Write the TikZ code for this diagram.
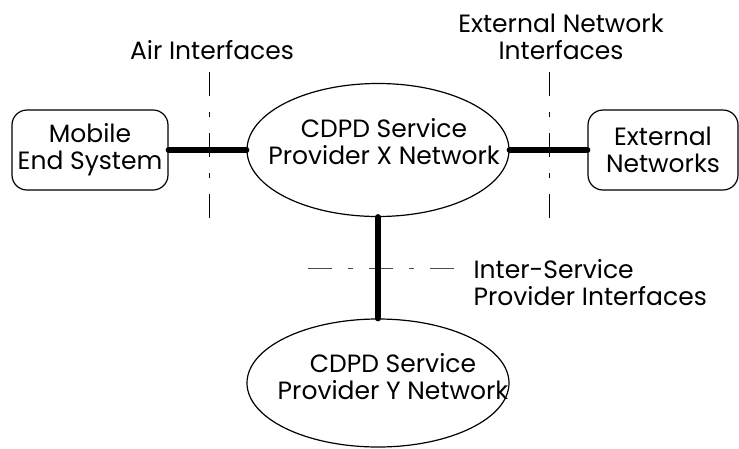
\documentclass[tikz,border=0pt]{standalone}
\usepackage{fontspec}
\setmainfont{Poppins}
\usetikzlibrary{arrows,positioning,shapes.geometric}

\begin{document}
\begin{tikzpicture}[x=1pt,y=-1pt,node distance=100pt,on grid,font=\fontsize{25}{27}\selectfont]
          \useasboundingbox (0,0) rectangle (739,448);
          \tikzset{endbox/.style={draw,rounded corners=15pt,line width=1.2pt,minimum width=156pt,minimum height=80pt,align=center,inner sep=0pt}}
          \tikzset{cloud/.style={ellipse,draw,line width=1.2pt,minimum width=262pt,minimum height=133pt,inner sep=0pt}}
          \node[cloud]                        (X) at (378,150)       {};
          \node[endbox]                       (M) [left =288pt of X] {Mobile\\End System};
          \node[endbox,minimum width=150pt]   (E) [right =285pt of X] {External\\Networks};
          \node[cloud,minimum height=128pt]   (Y) [below =233pt of X] {};
          \node[align=center]                 (Xtxt) [right =6pt of X,yshift=8pt] {CDPD Service\\Provider X Network};
          \node[align=center]                 (Ytxt) [right =15pt of Y,yshift=6pt] {CDPD Service\\Provider Y Network};
          \node                               (airlbl) at (212,50)   {Air Interfaces};
          \node[align=center]                 (extlbl) at (561,37)   {External Network\\Interfaces};
          \node[align=left,anchor=west]       (islbl)  at (470,283)  {Inter-Service\\Provider Interfaces};
          \coordinate (airtop) at (209,72);   \coordinate (airbot) at (209,220);
          \coordinate (exttop) at (549,72);   \coordinate (extbot) at (549,220);
          \coordinate (isleft) at (308,268);  \coordinate (isright) at (458,268);
          \tikzset{iface/.style={line width=0.9pt,dash pattern=on 24pt off 16pt on 5pt off 16pt}}
          \tikzset{link/.style={line width=6pt,line cap=round}}
          \draw[iface] (airtop) -- (airbot);
          \draw[iface] (exttop) -- (extbot);
          \draw[iface,black!70] (isleft) -- (isright);
          \draw[link] (M.east) -- (X.west);
          \draw[link] (X.east) -- (E.west);
          \draw[link] (X.south) -- (Y.north);
        \end{tikzpicture}
\end{document}
